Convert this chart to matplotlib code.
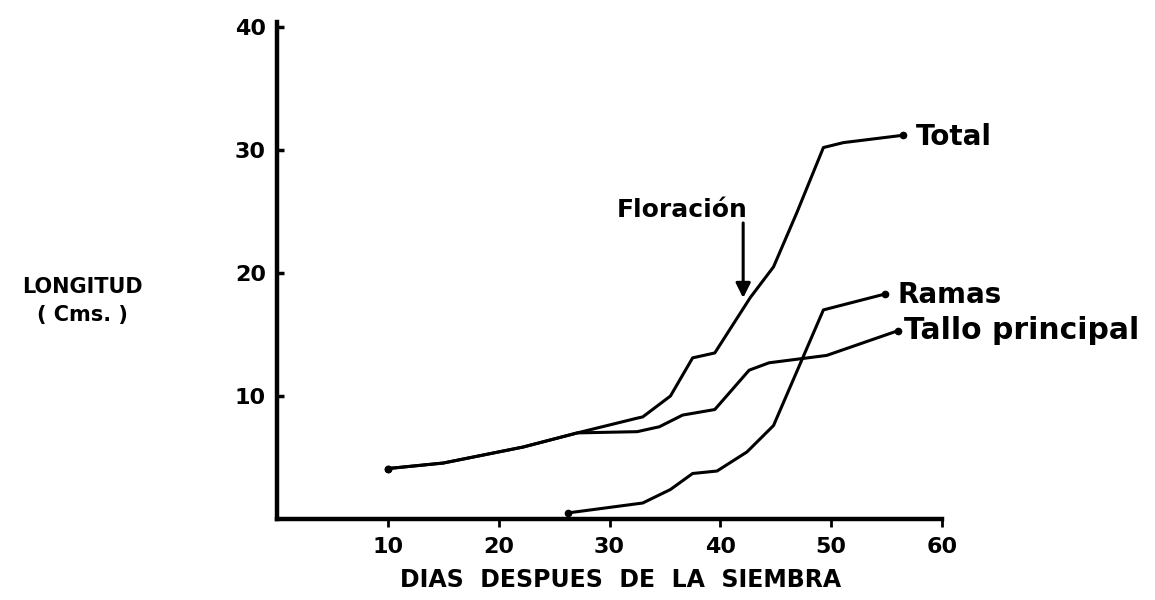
import matplotlib.pyplot as plt

# dias despues de la siembra / longitud (cms)
total_x = [10, 15, 22.2, 27.1, 32.5, 33.0, 35.5, 37.5, 39.5, 42.7, 44.8, 46.9, 49.3, 51.1, 56.5]
total_y = [4.1, 4.55, 5.85, 7.0, 8.2, 8.3, 10.0, 13.1, 13.5, 18.0, 20.5, 24.9, 30.2, 30.6, 31.2]

tallo_x = [10, 15, 22.2, 27.1, 32.5, 34.5, 36.6, 39.5, 42.6, 44.4, 49.6, 56.0]
tallo_y = [4.1, 4.55, 5.85, 7.0, 7.1, 7.5, 8.45, 8.9, 12.1, 12.7, 13.3, 15.3]

ramas_x = [26.3, 33.0, 35.5, 37.5, 39.7, 42.4, 44.8, 49.3, 54.9]
ramas_y = [0.5, 1.3, 2.4, 3.7, 3.9, 5.45, 7.6, 17.0, 18.3]

x_ticks = [10, 20, 30, 40, 50, 60]
y_ticks = [10, 20, 30, 40]

plt.rcParams['font.family'] = ['DejaVu Sans']

fig = plt.figure(figsize=(11.55, 6), dpi=100)
ytop = 40.4
ax = fig.add_axes([277 / 1155, 81 / 600, 665 / 1155, ytop * 12.3 / 600])

for xs, ys in [(total_x, total_y), (tallo_x, tallo_y), (ramas_x, ramas_y)]:
    ax.plot(xs, ys, color='black', linewidth=2.2, solid_capstyle='round',
            marker='o', markersize=4.5, markevery=[0, len(xs) - 1])

ax.set_xlim(0, 60)
ax.set_ylim(0, ytop)
ax.spines['top'].set_visible(False)
ax.spines['right'].set_visible(False)
ax.spines['left'].set_linewidth(3.2)
ax.spines['bottom'].set_linewidth(3.2)

ax.set_xticks(x_ticks)
ax.set_xticklabels([str(v) for v in x_ticks])
ax.set_yticks(y_ticks)
ax.set_yticklabels([str(v) for v in y_ticks])
ax.tick_params(axis='x', direction='out', length=6, width=2, pad=7, labelsize=16)
ax.tick_params(axis='y', direction='in', length=5, width=2.5, pad=8, labelsize=16)
for lab in ax.get_xticklabels() + ax.get_yticklabels():
    lab.set_fontweight('bold')

# etiquetas de las curvas
ax.text(57.6, 30.4, 'Total', fontsize=20, fontweight='bold', va='baseline')
ax.text(56.0, 17.56, 'Ramas', fontsize=20, fontweight='bold', va='baseline')
ax.text(56.6, 14.6, 'Tallo principal', fontsize=21.5, fontweight='bold', va='baseline')

# floracion
ax.text(36.6, 24.55, 'Floración', fontsize=18, fontweight='bold', ha='center', va='baseline')
ax.annotate('', xy=(42.06, 17.97), xytext=(42.06, 24.07),
            arrowprops=dict(arrowstyle='-|>', color='black', lw=2.2,
                            mutation_scale=22, shrinkA=0, shrinkB=0))

fig.text(0.071, 0.512, 'LONGITUD', fontsize=15, fontweight='bold', ha='center', va='baseline')
fig.text(0.071, 0.465, '( Cms. )', fontsize=15, fontweight='bold', ha='center', va='baseline')
fig.text(0.537, 0.022, 'DIAS  DESPUES  DE  LA  SIEMBRA', fontsize=17, fontweight='bold',
         ha='center', va='baseline')

plt.savefig('out.png', dpi=100)
